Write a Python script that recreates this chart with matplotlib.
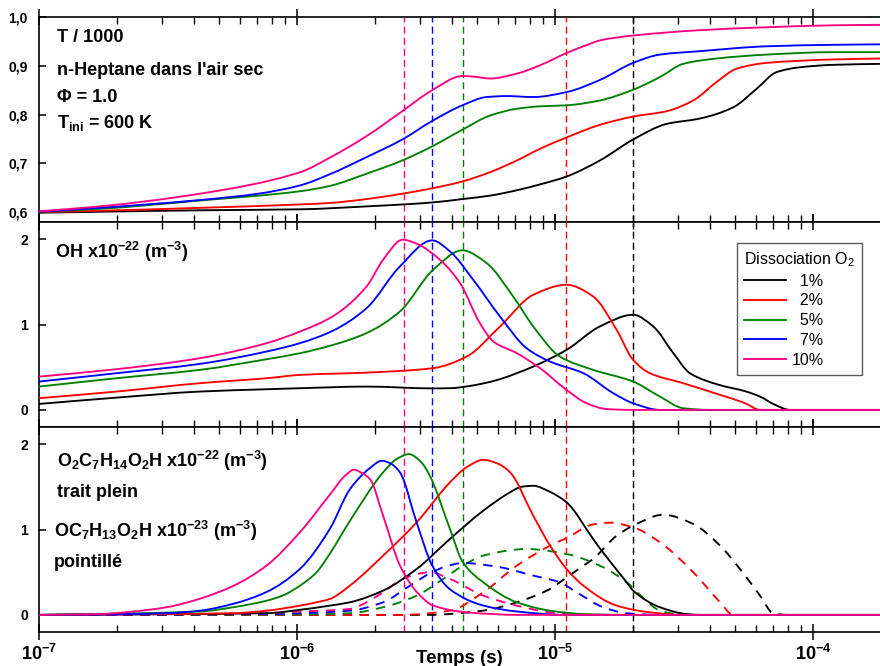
import numpy as np
import matplotlib
matplotlib.use("Agg")
import matplotlib.pyplot as plt
from matplotlib.ticker import LogLocator, FuncFormatter, NullFormatter
from matplotlib.path import Path
from matplotlib.patches import PathPatch
from matplotlib.lines import Line2D

plt.rcParams["font.family"] = ["Liberation Sans", "DejaVu Sans"]
plt.rcParams["mathtext.fontset"] = "custom"
plt.rcParams["mathtext.rm"] = "Liberation Sans"
plt.rcParams["mathtext.bf"] = "Liberation Sans:bold"
plt.rcParams["mathtext.it"] = "Liberation Sans:italic"

# ---------------------------------------------------------------
# data (time given as log10 of seconds)
# ---------------------------------------------------------------
LABELS = ["1%", "2%", "5%", "7%", "10%"]
COLORS = ["#000000", "#ff0000", "#008000", "#0000ff", "#ff0080"]

# vertical markers (ignition delay) per dissociation level
IGNITION = [2.0e-5, 1.1e-5, 4.4e-6, 3.35e-6, 2.6e-6]

# --- panel 1 : T / 1000
top_lt_1 = [-7.0, -6.764, -6.376, -5.988, -5.730, -5.476, -5.359, -5.252, -5.148, -5.058, -4.956,
            -4.826, -4.697, -4.567, -4.438, -4.309, -4.218, -4.141, -4.050, -3.921, -3.74]
top_1 = [0.599, 0.601, 0.604, 0.606, 0.612, 0.620, 0.627, 0.634, 0.645, 0.657, 0.673,
         0.706, 0.749, 0.781, 0.792, 0.815, 0.853, 0.887, 0.897, 0.902, 0.904]
top_lt_2 = [-7.0, -6.764, -6.376, -5.988, -5.872, -5.730, -5.592, -5.476, -5.359, -5.252, -5.148,
            -5.058, -4.956, -4.826, -4.697, -4.567, -4.464, -4.373, -4.296, -4.179, -3.921, -3.74]
top_2 = [0.600, 0.603, 0.609, 0.616, 0.619, 0.627, 0.638, 0.649, 0.663, 0.682, 0.706,
         0.730, 0.753, 0.779, 0.796, 0.807, 0.829, 0.867, 0.894, 0.906, 0.913, 0.915]
top_lt_5 = [-7.0, -6.764, -6.376, -5.988, -5.872, -5.730, -5.592, -5.476, -5.359, -5.252, -5.148,
            -5.058, -4.956, -4.826, -4.697, -4.593, -4.503, -4.373, -4.179, -3.921, -3.74]
top_5 = [0.601, 0.607, 0.624, 0.643, 0.654, 0.679, 0.706, 0.735, 0.769, 0.798, 0.812,
         0.817, 0.819, 0.829, 0.851, 0.877, 0.904, 0.915, 0.923, 0.928, 0.928]
top_lt_7 = [-7.0, -6.764, -6.376, -6.15, -5.988, -5.872, -5.730, -5.592, -5.476, -5.359, -5.265,
            -5.187, -5.084, -4.956, -4.826, -4.697, -4.593, -4.438, -4.179, -3.921, -3.74]
top_7 = [0.601, 0.609, 0.625, 0.638, 0.655, 0.678, 0.713, 0.749, 0.787, 0.819, 0.836,
         0.838, 0.836, 0.846, 0.871, 0.906, 0.923, 0.930, 0.940, 0.943, 0.944]
top_lt_10 = [-7.0, -6.764, -6.376, -5.988, -5.872, -5.730, -5.592, -5.476, -5.359, -5.317, -5.252,
             -5.148, -5.058, -4.956, -4.864, -4.826, -4.697, -4.438, -4.179, -3.921, -3.74]
top_10 = [0.602, 0.612, 0.638, 0.682, 0.712, 0.756, 0.807, 0.850, 0.879, 0.878, 0.874,
          0.884, 0.901, 0.926, 0.945, 0.952, 0.962, 0.973, 0.979, 0.983, 0.984]

# --- panel 2 : OH
oh_lt_1 = [-7.0, -6.699, -6.376, -6.117, -5.988, -5.730, -5.472, -5.40, -5.342, -5.278, -5.213,
           -5.148, -5.084, -4.955, -4.826, -4.697, -4.619, -4.541, -4.477, -4.360, -4.264, -4.205,
           -4.147, -4.089, -3.74]
oh_1 = [0.070, 0.144, 0.215, 0.242, 0.254, 0.273, 0.252, 0.255, 0.275, 0.31, 0.36,
        0.43, 0.508, 0.703, 0.977, 1.114, 0.977, 0.664, 0.430, 0.290, 0.22, 0.156,
        0.06, 0.0, 0.0]
oh_lt_2 = [-7.0, -6.699, -6.376, -6.117, -5.988, -5.730, -5.472, -5.342, -5.213, -5.084, -4.955,
           -4.852, -4.761, -4.697, -4.632, -4.503, -4.360, -4.264, -4.205, -3.74]
oh_2 = [0.137, 0.215, 0.313, 0.371, 0.410, 0.437, 0.489, 0.625, 0.977, 1.348, 1.465,
        1.328, 0.938, 0.586, 0.430, 0.313, 0.176, 0.08, 0.0, 0.0]
oh_lt_5 = [-7.0, -6.699, -6.376, -6.117, -5.988, -5.859, -5.730, -5.601, -5.472, -5.359, -5.265,
           -5.162, -5.084, -4.981, -4.852, -4.697, -4.593, -4.503, -4.40, -3.74]
oh_5 = [0.273, 0.371, 0.469, 0.594, 0.664, 0.762, 0.90, 1.152, 1.641, 1.868, 1.719,
        1.328, 0.977, 0.625, 0.469, 0.332, 0.156, 0.02, 0.0, 0.0]
oh_lt_7 = [-7.0, -6.699, -6.376, -6.117, -5.988, -5.859, -5.730, -5.601, -5.476, -5.407, -5.317,
           -5.213, -5.110, -5.019, -4.890, -4.774, -4.697, -4.593, -3.74]
oh_7 = [0.332, 0.430, 0.539, 0.684, 0.782, 0.93, 1.192, 1.680, 1.985, 1.856, 1.524,
        1.094, 0.723, 0.566, 0.430, 0.196, 0.078, 0.0, 0.0]
oh_lt_10 = [-7.0, -6.699, -6.376, -6.117, -5.988, -5.859, -5.730, -5.666, -5.590, -5.536, -5.446,
            -5.368, -5.291, -5.239, -5.148, -5.058, -4.955, -4.877, -4.80, -4.697, -3.74]
oh_10 = [0.39, 0.477, 0.606, 0.782, 0.918, 1.10, 1.446, 1.758, 1.993, 1.946, 1.758,
         1.485, 1.016, 0.801, 0.664, 0.489, 0.234, 0.078, 0.01, 0.0, 0.0]

# --- panel 3 : O2C7H14O2H (solid)
qo_lt_1 = [-7.0, -6.117, -5.988, -5.872, -5.795, -5.666, -5.536, -5.407, -5.278, -5.174, -5.13,
           -5.084, -5.019, -4.955, -4.852, -4.826, -4.722, -4.697, -4.593, -4.490, -4.438, -3.74]
qo_1 = [0.0, 0.02, 0.06, 0.109, 0.148, 0.285, 0.538, 0.889, 1.220, 1.435, 1.50,
        1.512, 1.44, 1.318, 0.889, 0.78, 0.382, 0.285, 0.09, 0.01, 0.0, 0.0]
qo_lt_2 = [-7.0, -6.247, -6.117, -5.988, -5.924, -5.872, -5.795, -5.666, -5.536, -5.407, -5.342,
           -5.278, -5.221, -5.174, -5.084, -5.019, -4.955, -4.890, -4.761, -4.632, -4.503, -3.74]
qo_2 = [0.0, 0.02, 0.05, 0.109, 0.148, 0.187, 0.343, 0.694, 1.084, 1.552, 1.73,
        1.816, 1.77, 1.669, 1.161, 0.811, 0.538, 0.343, 0.109, 0.03, 0.0, 0.0]
qo_lt_5 = [-7.0, -6.376, -6.247, -6.117, -6.053, -5.988, -5.924, -5.872, -5.795, -5.666, -5.616,
           -5.566, -5.519, -5.485, -5.407, -5.357, -5.278, -5.148, -5.019, -4.890, -4.7, -3.74]
qo_5 = [0.0, 0.04, 0.09, 0.167, 0.23, 0.343, 0.50, 0.72, 1.10, 1.669, 1.82,
        1.883, 1.79, 1.629, 1.006, 0.616, 0.382, 0.148, 0.05, 0.01, 0.0, 0.0]
qo_lt_7 = [-7.0, -6.764, -6.505, -6.376, -6.247, -6.117, -5.988, -5.872, -5.795, -5.717, -5.671,
           -5.636, -5.601, -5.536, -5.476, -5.407, -5.278, -5.148, -4.955, -3.74]
qo_7 = [0.0, 0.005, 0.02, 0.05, 0.13, 0.27, 0.54, 1.01, 1.47, 1.72, 1.805,
        1.77, 1.67, 1.08, 0.58, 0.30, 0.11, 0.04, 0.0, 0.0]
qo_lt_10 = [-7.0, -6.764, -6.634, -6.505, -6.376, -6.247, -6.117, -5.988, -5.872, -5.81, -5.779,
            -5.748, -5.717, -5.666, -5.601, -5.536, -5.472, -5.342, -5.136, -3.74]
qo_10 = [0.0, 0.01, 0.04, 0.09, 0.19, 0.34, 0.58, 0.97, 1.41, 1.64, 1.70,
         1.66, 1.59, 1.16, 0.58, 0.27, 0.11, 0.03, 0.0, 0.0]

# --- panel 3 : OC7H13O2H (dashed)
ke_lt_1 = [-7.0, -5.5, -5.278, -5.148, -5.019, -4.981, -4.890, -4.852, -4.761, -4.697, -4.580,
           -4.464, -4.360, -4.283, -4.205, -4.154, -4.1, -3.74]
ke_1 = [0.0, 0.0, 0.05, 0.148, 0.304, 0.382, 0.577, 0.655, 0.927, 1.044, 1.173,
        1.064, 0.811, 0.538, 0.226, 0.02, 0.0, 0.0]
ke_lt_2 = [-7.0, -5.6, -5.407, -5.278, -5.148, -5.019, -4.955, -4.852, -4.787, -4.697, -4.593,
           -4.464, -4.360, -4.309, -3.74]
ke_2 = [0.0, 0.0, 0.05, 0.265, 0.577, 0.811, 0.90, 1.06, 1.08, 1.026, 0.85,
        0.50, 0.148, 0.0, 0.0]
ke_lt_5 = [-7.0, -6.0, -5.795, -5.666, -5.536, -5.433, -5.357, -5.278, -5.110, -4.955, -4.826,
           -4.722, -4.658, -4.593, -4.5, -3.74]
ke_5 = [0.0, 0.005, 0.02, 0.09, 0.226, 0.421, 0.577, 0.694, 0.772, 0.713, 0.577,
        0.382, 0.2, 0.05, 0.0, 0.0]
ke_lt_7 = [-7.0, -6.117, -5.988, -5.795, -5.666, -5.562, -5.476, -5.42, -5.357, -5.213, -5.084,
           -4.981, -4.916, -4.813, -4.722, -4.6, -3.74]
ke_7 = [0.0, 0.01, 0.02, 0.05, 0.148, 0.343, 0.50, 0.57, 0.608, 0.558, 0.46,
        0.382, 0.265, 0.09, 0.02, 0.0, 0.0]
ke_lt_10 = [-7.0, -6.117, -5.988, -5.795, -5.756, -5.666, -5.590, -5.485, -5.407, -5.278, -5.148,
            -5.019, -4.9, -3.74]
ke_10 = [0.0, 0.02, 0.04, 0.07, 0.11, 0.265, 0.421, 0.50, 0.421, 0.226, 0.109,
         0.03, 0.0, 0.0]

TOP = [(top_lt_1, top_1), (top_lt_2, top_2), (top_lt_5, top_5), (top_lt_7, top_7), (top_lt_10, top_10)]
OH = [(oh_lt_1, oh_1), (oh_lt_2, oh_2), (oh_lt_5, oh_5), (oh_lt_7, oh_7), (oh_lt_10, oh_10)]
QOOH = [(qo_lt_1, qo_1), (qo_lt_2, qo_2), (qo_lt_5, qo_5), (qo_lt_7, qo_7), (qo_lt_10, qo_10)]
KET = [(ke_lt_1, ke_1), (ke_lt_2, ke_2), (ke_lt_5, ke_5), (ke_lt_7, ke_7), (ke_lt_10, ke_10)]

W, H = 880, 666
X_LO, X_HI = 1e-7, 10 ** -3.74
LW = 1.35


def fig_box(x0, y0, x1, y1):
    return [x0 / W, 1 - y1 / H, (x1 - x0) / W, (y1 - y0) / H]


def px(x, y):
    return x / W, 1 - y / H


def smooth_curve(ax, lt, v, color, ls="-", z=3):
    """draw the read points joined by monotone cubic segments (bezier path)"""
    x = np.asarray(lt, float)
    y = np.asarray(v, float)
    h = np.diff(x)
    d = np.diff(y) / h
    m = np.zeros_like(x)
    m[0], m[-1] = d[0], d[-1]
    for i in range(1, len(x) - 1):
        if d[i - 1] * d[i] <= 0:
            m[i] = 0.0
        else:
            w1 = 2 * h[i] + h[i - 1]
            w2 = h[i] + 2 * h[i - 1]
            m[i] = (w1 + w2) / (w1 / d[i - 1] + w2 / d[i])
    verts = [(x[0], y[0])]
    codes = [Path.MOVETO]
    for i in range(len(x) - 1):
        verts += [(x[i] + h[i] / 3, y[i] + m[i] * h[i] / 3),
                  (x[i + 1] - h[i] / 3, y[i + 1] - m[i + 1] * h[i] / 3),
                  (x[i + 1], y[i + 1])]
        codes += [Path.CURVE4] * 3
    verts = np.array(verts)
    verts[:, 0] = 10 ** verts[:, 0]
    patch = PathPatch(Path(verts, codes), fill=False, edgecolor=color, lw=LW,
                      linestyle=ls, zorder=z, capstyle="butt")
    ax.add_patch(patch)


def setup(ax, xlabels=False):
    ax.set_xscale("log")
    ax.set_xlim(X_LO, X_HI)
    ax.xaxis.set_major_locator(LogLocator(base=10, numticks=12))
    ax.xaxis.set_minor_locator(LogLocator(base=10, subs=np.arange(2, 10), numticks=100))
    ax.xaxis.set_minor_formatter(NullFormatter())
    ax.tick_params(axis="x", which="major", direction="inout", length=11, width=1.1,
                   top=True, bottom=True, labelbottom=xlabels, labelsize=13, pad=3)
    ax.tick_params(axis="x", which="minor", direction="in", length=5, width=1.0,
                   top=True, bottom=True)
    ax.tick_params(axis="y", which="major", direction="in", length=5, width=1.1,
                   left=True, right=False, labelsize=10, pad=8)
    ax.tick_params(axis="y", which="minor", left=False, right=False)
    ax.spines["right"].set_visible(False)
    for s in ["left", "top", "bottom"]:
        ax.spines[s].set_linewidth(1.2)
    for lab in ax.get_yticklabels():
        lab.set_fontweight("bold")
    if xlabels:
        ax.xaxis.set_major_formatter(
            FuncFormatter(lambda v, p: r"$\mathbf{10^{%d}}$" % int(round(np.log10(v)))))
    for t, c in zip(IGNITION, COLORS):
        ax.axvline(t, color=c, lw=1.0, ls=(0, (5, 3)), zorder=1)


fig = plt.figure(figsize=(W / 100, H / 100), dpi=100)
ax1 = fig.add_axes(fig_box(39, 17, 880, 222))
ax2 = fig.add_axes(fig_box(39, 222, 880, 427))
ax3 = fig.add_axes(fig_box(39, 427, 880, 632))

# top panel
for (lt, v), c in zip(TOP, COLORS):
    smooth_curve(ax1, lt, v, c)
ax1.set_ylim(0.58, 1.0)
ax1.set_yticks([0.6, 0.7, 0.8, 0.9, 1.0], ["0,6", "0,7", "0,8", "0,9", "1,0"])
setup(ax1)

# middle panel
for (lt, v), c in zip(OH, COLORS):
    smooth_curve(ax2, lt, v, c)
ax2.set_ylim(-0.2, 2.2)
ax2.set_yticks([0, 1, 2], ["0", "1", "2"])
setup(ax2)

# bottom panel
for (lt, v), c in zip(KET, COLORS):
    smooth_curve(ax3, lt, v, c, ls=(0, (5, 4)), z=2)
for (lt, v), c in zip(QOOH, COLORS):
    smooth_curve(ax3, lt, v, c)
ax3.set_ylim(-0.2, 2.2)
ax3.set_yticks([0, 1, 2], ["0", "1", "2"])
setup(ax3, xlabels=True)

handles = [Line2D([], [], color=c, lw=LW) for c in COLORS]
leg = ax2.legend(handles, [l.rjust(3, "\u2007") for l in LABELS],
                 title=r"Dissociation O$_2$", loc="upper left",
                 bbox_to_anchor=((737 - 39) / 841, (427 - 243) / 205),
                 borderaxespad=0, fontsize=11.5, title_fontsize=11.5,
                 handlelength=2.6, handletextpad=0.35, labelspacing=0.3,
                 borderpad=0.45, frameon=True, fancybox=False)
leg.get_frame().set_edgecolor("#333333")
leg.get_frame().set_linewidth(1.0)
leg._legend_box.align = "left"

# annotations
bold = dict(fontsize=13, fontweight="bold", va="baseline", ha="left")
fig.text(*px(57, 42), "T / 1000", **bold)
fig.text(*px(57, 75), "n-Heptane dans l'air sec", **bold)
fig.text(*px(57, 102), "\u03a6 = 1.0", **bold)
fig.text(*px(57, 128), r"T$_{\mathbf{ini}}$ = 600 K", **bold)
fig.text(*px(55, 258), r"OH x10$^{\mathbf{-22}}$ (m$^{\mathbf{-3}}$)", **bold)
fig.text(*px(57, 467),
         r"O$_{\mathbf{2}}$C$_{\mathbf{7}}$H$_{\mathbf{14}}$O$_{\mathbf{2}}$H x10$^{\mathbf{-22}}$ (m$^{\mathbf{-3}}$)",
         **bold)
fig.text(*px(57, 497), "trait plein", **bold)
fig.text(*px(54, 537),
         r"OC$_{\mathbf{7}}$H$_{\mathbf{13}}$O$_{\mathbf{2}}$H x10$^{\mathbf{-23}}$ (m$^{\mathbf{-3}}$)",
         **bold)
fig.text(*px(54, 567), "pointill\u00e9", **bold)
fig.text(*px(459, 663), "Temps (s)", fontsize=13.5, fontweight="bold", ha="center", va="baseline")

fig.savefig("out.png", dpi=100)
